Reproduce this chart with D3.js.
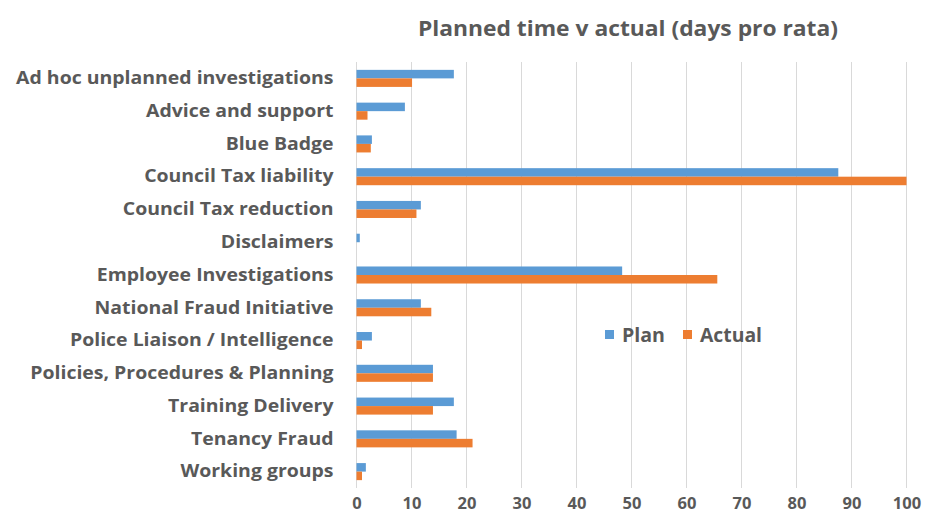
<!DOCTYPE html>
<html>
<head>
<meta charset="utf-8">
<script src="https://cdn.jsdelivr.net/npm/d3@7"></script>
<style>
  html, body { margin: 0; padding: 0; background: #fff; }
  svg text { font-family: "Open Sans", "Liberation Sans", sans-serif; }
</style>
</head>
<body>
<svg id="chart" width="937" height="515"></svg>
<script>
const categories = [
  "Ad hoc unplanned investigations",
  "Advice and support",
  "Blue Badge",
  "Council Tax liability",
  "Council Tax reduction",
  "Disclaimers",
  "Employee Investigations",
  "National Fraud Initiative",
  "Police Liaison / Intelligence",
  "Policies, Procedures & Planning",
  "Training Delivery",
  "Tenancy Fraud",
  "Working groups"
];
const planValues   = [17.7, 8.8, 2.8, 87.6, 11.7, 0.6, 48.3, 11.7, 2.8, 13.9, 17.7, 18.2, 1.7];
const actualValues = [10.1, 2.0, 2.6, 100.0, 10.9, 0, 65.6, 13.6, 1.0, 13.9, 13.9, 21.1, 1.0];
const seriesNames = ["Plan", "Actual"];
const xTicks = [0, 10, 20, 30, 40, 50, 60, 70, 80, 90, 100];

const colors = { Plan: "#5B9BD5", Actual: "#ED7D31" };
const textColor = "#595959";

const svg = d3.select("#chart");
const margin = { top: 62, right: 30, bottom: 27, left: 356.5 };
const width = 937, height = 515;

const x = d3.scaleLinear().domain([0, 100]).range([margin.left, 906.5]);
const y = d3.scaleBand().domain(categories).range([margin.top, height - margin.bottom]).paddingInner(0.48).paddingOuter(0.24);
const sub = d3.scaleBand().domain(seriesNames).range([0, y.bandwidth()]);

// title
svg.append("text")
  .attr("x", 628).attr("y", 36)
  .attr("text-anchor", "middle")
  .attr("font-size", 22).attr("font-weight", 700)
  .attr("fill", textColor)
  .attr("textLength", 420).attr("lengthAdjust", "spacingAndGlyphs")
  .text("Planned time v actual (days pro rata)");

// vertical gridlines
svg.append("g")
  .selectAll("line")
  .data(xTicks)
  .join("line")
  .attr("x1", d => x(d)).attr("x2", d => x(d))
  .attr("y1", margin.top).attr("y2", height - margin.bottom)
  .attr("stroke", "#d9d9d9").attr("stroke-width", 1);

// x axis labels
const xAxis = d3.axisBottom(x).tickValues(xTicks).tickSize(0).tickPadding(9);
const gx = svg.append("g").attr("transform", `translate(0,${height - margin.bottom})`).call(xAxis);
gx.select(".domain").remove();
gx.selectAll("text").attr("font-size", 16.5).attr("font-weight", 700).attr("fill", textColor)
  .attr("font-family", "'Open Sans', sans-serif");

// y axis labels, stretched slightly to the narrower-font proportions
const yAxis = d3.axisLeft(y).tickSize(0).tickPadding(23);
const gy = svg.append("g").attr("transform", `translate(${margin.left},0)`).call(yAxis);
gy.select(".domain").remove();
gy.selectAll("text").attr("font-size", 18).attr("font-weight", 700).attr("fill", textColor)
  .attr("font-family", "'Open Sans', sans-serif")
  .each(function () {
    const w = this.getComputedTextLength();
    d3.select(this).attr("textLength", w * 1.08).attr("lengthAdjust", "spacingAndGlyphs");
  });

// bars
const rows = categories.map((c, i) => ({ c, Plan: planValues[i], Actual: actualValues[i] }));
const groups = svg.append("g").selectAll("g")
  .data(rows).join("g")
  .attr("transform", d => `translate(0,${y(d.c)})`);
groups.selectAll("rect")
  .data(d => seriesNames.map(s => ({ s, v: d[s] })))
  .join("rect")
  .attr("x", x(0))
  .attr("y", d => sub(d.s))
  .attr("width", d => x(d.v) - x(0))
  .attr("height", sub.bandwidth())
  .attr("fill", d => colors[d.s]);

// legend
const legend = svg.append("g").attr("transform", "translate(605,335)");
const items = [{ s: "Plan", dx: 0, w: 43 }, { s: "Actual", dx: 78, w: 62 }];
const li = legend.selectAll("g").data(items).join("g").attr("transform", d => `translate(${d.dx},0)`);
li.append("rect").attr("x", 0).attr("y", -5).attr("width", 9).attr("height", 9).attr("fill", d => colors[d.s]);
li.append("text").attr("x", 17).attr("y", 7).attr("font-size", 19).attr("font-weight", 700)
  .attr("fill", textColor)
  .attr("textLength", d => d.w).attr("lengthAdjust", "spacingAndGlyphs")
  .text(d => d.s);
</script>
</body>
</html>
